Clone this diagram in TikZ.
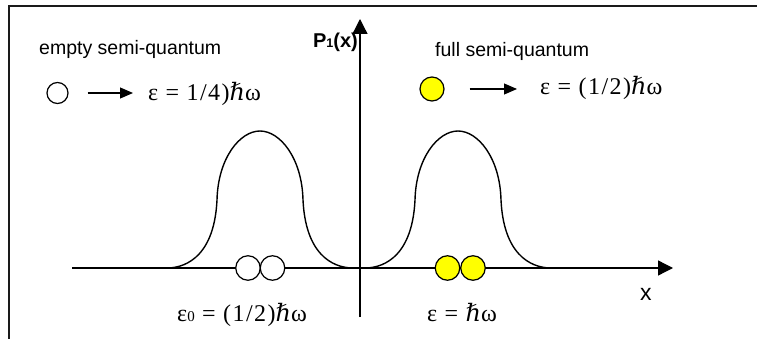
\documentclass[tikz,border=0pt]{standalone}
\usepackage{fontspec}
\setmainfont{Liberation Serif}
\newfontfamily\arialfont{Liberation Sans}
\newfontfamily\hbarfont{DejaVu Serif}
\newcommand{\hb}{{\hbarfont\itshape ℏ}}
\usepackage{tikz}
\usetikzlibrary{arrows.meta,positioning}
\definecolor{cInk}{HTML}{000000}
\definecolor{cFrame}{HTML}{1A1A1A}
\definecolor{cFull}{HTML}{FFFF00}
\tikzset{
  axis/.style={line width=1.3pt,color=cInk,-{Triangle[length=15pt,width=15pt]}},
  arr/.style={line width=1.1pt,color=cInk,-{Triangle[length=13pt,width=11pt]}},
  bump/.style={line width=1.4pt,color=cInk},
  sq/.style={circle,draw=cInk,fill=#1,line width=1.2pt,minimum size=24.5pt,inner sep=0pt},
  sq/.default=white,
  word/.style={font=\arialfont\fontsize{19.5}{23}\selectfont,anchor=base west,inner sep=0pt},
  eq/.style={font=\addfontfeatures{LetterSpace=6}\fontsize{24}{28}\selectfont,anchor=base west,inner sep=0pt},
}

\begin{document}
\begin{tikzpicture}[x=1pt,y=-1pt]
    \useasboundingbox (0,0) rectangle (757,339);
    \draw[line width=2.2pt,cFrame] (8.7,339) -- (8.7,5.7) -- (757,5.7);
    % axes
    \coordinate (xs) at (72,268);
    \coordinate (xe) at (673,268);
    \coordinate (ys) at (360,317);
    \coordinate (ye) at (360,19);
    \draw[axis] (xs) -- (xe);
    \draw[axis] (ys) -- (ye);
    \node[font=\arialfont\bfseries\fontsize{20}{23}\selectfont,anchor=base east,inner sep=0pt] (pone) at (358,48) {P{\fontsize{12.5}{13}\selectfont 1}(x)};
    \node[font=\arialfont\fontsize{23}{26}\selectfont,anchor=base west,inner sep=0pt] (xlab) at (640,300) {x};
    % the two bumps
    \foreach \c in {260,458}
      {\draw[bump] (\c-93,268) .. controls (\c-80,268) and (\c-46,262) .. (\c-43,200)
         .. controls (\c-42,158) and (\c-20,131) .. (\c,131)
         .. controls (\c+20,131) and (\c+42,158) .. (\c+43,200)
         .. controls (\c+46,262) and (\c+80,268) .. (\c+93,268);}
    % pairs on the axis
    \foreach \n/\x/\f in {e1/248/white,e2/272.5/white,f1/447.5/cFull,f2/473/cFull}
      {\node[sq=\f] (\n) at (\x,268) {};}
    \node[eq] (eground) at (177,321) {ε{\fontsize{15}{16}\selectfont 0} = (1/2)\hb ω};
    \node[eq] (eboth) at (427,321) {ε = \hb ω};
    % legend
    \node[word] (emptyt) at (39,55) {empty semi-quantum};
    \node[word] (fullt) at (435,57) {full semi-quantum};
    \node[sq,minimum size=21pt] (eleg) at (57.5,93) {};
    \node[eq] (elegt) at (148,101) {ε = 1/4)\hb ω};
    \node[sq=cFull,minimum size=24pt] (fleg) at (432,89) {};
    \node[eq] (flegt) at (540,95) {ε = (1/2)\hb ω};
    \draw[arr] ([xshift=19pt]eleg.east) -- ([xshift=-15pt]eleg.east -| elegt.west);
    \draw[arr] ([xshift=25pt]fleg.east) -- ([xshift=-23pt]fleg.east -| flegt.west);
  \end{tikzpicture}
\end{document}
